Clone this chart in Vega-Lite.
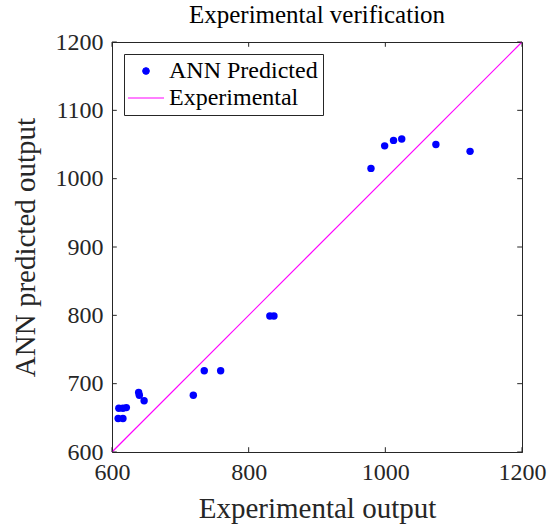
{
  "$schema": "https://vega.github.io/schema/vega-lite/v6.json",
  "width": 410,
  "height": 410,
  "autosize": "none",
  "padding": {"left": 112, "top": 42, "right": 29, "bottom": 75},
  "background": "white",
  "title": {"text": "Experimental verification", "font": "Liberation Serif", "fontSize": 25, "fontWeight": "normal", "color": "#000000", "offset": 2},
  "config": {
    "view": {"stroke": "#262626", "strokeWidth": 1},
    "axis": {"grid": false, "domainColor": "#262626", "labelColor": "#262626", "titleColor": "#262626", "labelFont": "Liberation Serif", "titleFont": "Liberation Serif", "labelFontSize": 24, "titleFontSize": 29, "titleFontWeight": "normal", "domainWidth": 1, "labelFlush": false, "format": "d", "ticks": false}
  },
  "datasets": {
    "pts": [
      {"x": 609, "y": 649, "series": "ANN Predicted"},
      {"x": 616, "y": 649, "series": "ANN Predicted"},
      {"x": 610, "y": 664, "series": "ANN Predicted"},
      {"x": 616, "y": 664, "series": "ANN Predicted"},
      {"x": 621, "y": 665, "series": "ANN Predicted"},
      {"x": 639, "y": 687, "series": "ANN Predicted"},
      {"x": 640, "y": 683, "series": "ANN Predicted"},
      {"x": 647, "y": 675, "series": "ANN Predicted"},
      {"x": 719, "y": 683, "series": "ANN Predicted"},
      {"x": 735, "y": 719, "series": "ANN Predicted"},
      {"x": 759, "y": 719, "series": "ANN Predicted"},
      {"x": 831, "y": 799, "series": "ANN Predicted"},
      {"x": 837, "y": 799, "series": "ANN Predicted"},
      {"x": 979, "y": 1015, "series": "ANN Predicted"},
      {"x": 999, "y": 1048, "series": "ANN Predicted"},
      {"x": 1012, "y": 1056, "series": "ANN Predicted"},
      {"x": 1024, "y": 1058, "series": "ANN Predicted"},
      {"x": 1074, "y": 1050, "series": "ANN Predicted"},
      {"x": 1124, "y": 1040, "series": "ANN Predicted"},
      {"x": 600, "y": 600, "series": "Experimental"},
      {"x": 1200, "y": 1200, "series": "Experimental"}
    ],
    "xticks": [{"t": 600}, {"t": 800}, {"t": 1000}, {"t": 1200}],
    "yticks": [{"t": 600}, {"t": 700}, {"t": 800}, {"t": 900}, {"t": 1000}, {"t": 1100}, {"t": 1200}]
  },
  "layer": [
    {
      "data": {"name": "pts"},
      "transform": [{"filter": "datum.series === 'Experimental'"}],
      "mark": {"type": "line", "strokeWidth": 1.2},
      "encoding": {
        "x": {"field": "x", "type": "quantitative", "scale": {"domain": [600, 1200], "nice": false, "zero": false}, "axis": {"values": [600, 800, 1000, 1200], "title": "Experimental output", "labelPadding": 8, "titlePadding": 10}},
        "y": {"field": "y", "type": "quantitative", "scale": {"domain": [600, 1200], "nice": false, "zero": false}, "axis": {"values": [600, 700, 800, 900, 1000, 1100, 1200], "title": "ANN predicted output", "labelPadding": 9, "titlePadding": 15}},
        "color": {"field": "series", "type": "nominal", "scale": {"domain": ["ANN Predicted", "Experimental"], "range": ["#0000FF", "#FF00FF"]},
          "legend": {"title": null, "orient": "top-left", "offset": 12, "labelFont": "Liberation Serif", "labelFontSize": 24, "labelColor": "#000000", "strokeColor": "#262626", "fillColor": "white", "padding": 5, "symbolSize": 600, "symbolOffset": 5, "rowPadding": 3, "labelOffset": 11,
            "encode": {"symbols": {"update": {"stroke": {"scale": "color", "field": "value"}, "strokeWidth": {"value": 1}, "size": {"signal": "datum.value === 'Experimental' ? 1300 : 45"}}}}}}
      }
    },
    {
      "data": {"name": "pts"},
      "transform": [{"filter": "datum.series === 'ANN Predicted'"}],
      "mark": {"type": "point", "filled": true, "size": 55, "opacity": 1},
      "encoding": {
        "x": {"field": "x", "type": "quantitative"},
        "y": {"field": "y", "type": "quantitative"},
        "color": {"field": "series", "type": "nominal"},
        "shape": {"field": "series", "type": "nominal", "scale": {"domain": ["ANN Predicted", "Experimental"], "range": ["circle", "stroke"]}}
      }
    },
    {
      "data": {"name": "xticks"},
      "mark": {"type": "rule", "color": "#262626", "strokeWidth": 1},
      "encoding": {"x": {"field": "t", "type": "quantitative"}, "y": {"datum": 600}, "y2": {"datum": 607}}
    },
    {
      "data": {"name": "xticks"},
      "mark": {"type": "rule", "color": "#262626", "strokeWidth": 1},
      "encoding": {"x": {"field": "t", "type": "quantitative"}, "y": {"datum": 1200}, "y2": {"datum": 1193}}
    },
    {
      "data": {"name": "yticks"},
      "mark": {"type": "rule", "color": "#262626", "strokeWidth": 1},
      "encoding": {"y": {"field": "t", "type": "quantitative"}, "x": {"datum": 600}, "x2": {"datum": 607}}
    },
    {
      "data": {"name": "yticks"},
      "mark": {"type": "rule", "color": "#262626", "strokeWidth": 1},
      "encoding": {"y": {"field": "t", "type": "quantitative"}, "x": {"datum": 1200}, "x2": {"datum": 1193}}
    }
  ]
}
